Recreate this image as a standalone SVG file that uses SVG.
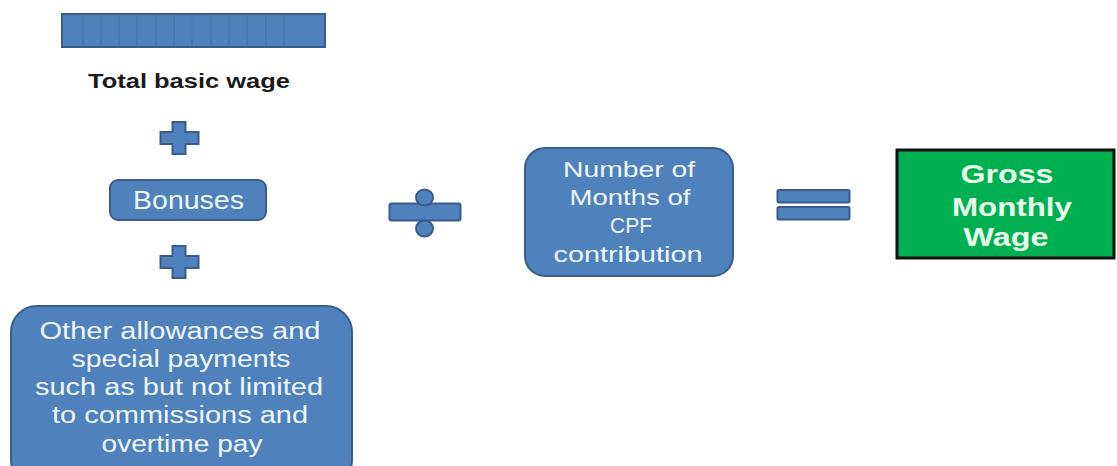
<svg xmlns="http://www.w3.org/2000/svg" width="1117" height="466" viewBox="0 0 1117 466">
<style>
.blue{fill:#4F81BD;stroke:#385D8A;stroke-width:2}
.div{stroke:#41709F;stroke-width:1}
.wt{font-family:"Liberation Sans",Arial,sans-serif;fill:#EEF5FB;text-anchor:middle}
.bk{font-family:"Liberation Sans",Arial,sans-serif;fill:#1a1a1a;font-weight:bold;text-anchor:middle}
.gt{font-family:"Liberation Sans",Arial,sans-serif;fill:#E8FBEA;font-weight:bold;text-anchor:middle}
</style>
<defs>
<path id="plus" d="M12,0 H25 V10 H38 V22 H25 V32 H12 V22 H0 V10 H12 Z"/>
</defs>
<rect width="1117" height="466" fill="#ffffff"/>
<g id="total-basic-wage">
<rect class="blue" x="62" y="14" width="263" height="33"/>
<g class="div">
<line x1="83" y1="15" x2="83" y2="46"/><line x1="101" y1="15" x2="101" y2="46"/><line x1="119" y1="15" x2="119" y2="46"/><line x1="137" y1="15" x2="137" y2="46"/><line x1="156" y1="15" x2="156" y2="46"/><line x1="174" y1="15" x2="174" y2="46"/><line x1="192" y1="15" x2="192" y2="46"/><line x1="211" y1="15" x2="211" y2="46"/><line x1="229" y1="15" x2="229" y2="46"/><line x1="247" y1="15" x2="247" y2="46"/><line x1="266" y1="15" x2="266" y2="46"/><line x1="284" y1="15" x2="284" y2="46"/>
</g>
<text class="bk" x="189" y="88" font-size="20" textLength="202" lengthAdjust="spacingAndGlyphs">Total basic wage</text>
</g>
<g id="plus1"><use href="#plus" class="blue" x="160.5" y="122" stroke-width="1.5"/></g>
<g id="bonuses">
<rect class="blue" x="110" y="180" width="156" height="40" rx="8"/>
<text class="wt" x="188.5" y="209" font-size="25" textLength="111" lengthAdjust="spacingAndGlyphs">Bonuses</text>
</g>
<g id="plus2"><use href="#plus" class="blue" x="160.5" y="246" stroke-width="1.5"/></g>
<g id="other-allowances">
<rect class="blue" x="11" y="306" width="341" height="180" rx="26"/>
<g font-size="23.5">
<text class="wt" x="180" y="339" textLength="281" lengthAdjust="spacingAndGlyphs">Other allowances and</text>
<text class="wt" x="181" y="367" textLength="219" lengthAdjust="spacingAndGlyphs">special payments</text>
<text class="wt" x="179" y="395" textLength="288" lengthAdjust="spacingAndGlyphs">such as but not limited</text>
<text class="wt" x="180" y="423" textLength="256" lengthAdjust="spacingAndGlyphs">to commissions and</text>
<text class="wt" x="182" y="452" textLength="161" lengthAdjust="spacingAndGlyphs">overtime pay</text>
</g>
</g>
<g id="divide">
<rect class="blue" x="389.5" y="203.5" width="71" height="17" rx="2"/>
<ellipse class="blue" cx="424.5" cy="197.5" rx="8.5" ry="8"/>
<ellipse class="blue" cx="424.5" cy="228.5" rx="8.5" ry="8"/>
</g>
<g id="months-cpf">
<rect class="blue" x="525" y="148" width="208" height="128" rx="20"/>
<g font-size="22.5">
<text class="wt" x="629" y="177" textLength="132" lengthAdjust="spacingAndGlyphs">Number of</text>
<text class="wt" x="630" y="205" textLength="121" lengthAdjust="spacingAndGlyphs">Months of</text>
<text class="wt" x="631" y="233" textLength="42" lengthAdjust="spacingAndGlyphs">CPF</text>
<text class="wt" x="628" y="262" textLength="149" lengthAdjust="spacingAndGlyphs">contribution</text>
</g>
</g>
<g id="equals">
<rect class="blue" x="777.5" y="190" width="72" height="12.5" rx="1.5" stroke-width="1.5"/>
<rect class="blue" x="777.5" y="207" width="72" height="12.5" rx="1.5" stroke-width="1.5"/>
</g>
<g id="gross-monthly-wage">
<rect x="897" y="150" width="217" height="108" fill="#00B050" stroke="#111111" stroke-width="3"/>
<g font-size="25">
<text class="gt" x="1007" y="183" textLength="93" lengthAdjust="spacingAndGlyphs">Gross</text>
<text class="gt" x="1012" y="216" textLength="120" lengthAdjust="spacingAndGlyphs">Monthly</text>
<text class="gt" x="1006" y="246" textLength="85" lengthAdjust="spacingAndGlyphs">Wage</text>
</g>
</g>
<g id="connectors"></g>
</svg>
